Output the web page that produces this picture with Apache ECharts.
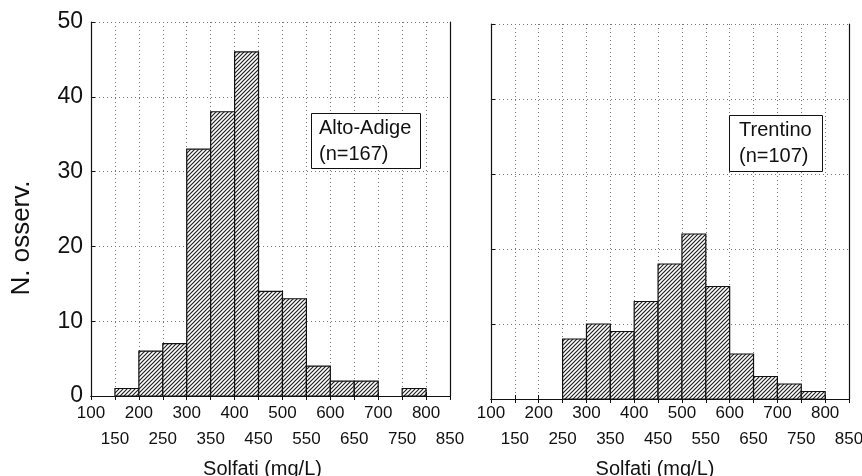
<!DOCTYPE html>
<html>
<head>
<meta charset="utf-8">
<script src="https://cdn.jsdelivr.net/npm/echarts@6/dist/echarts.min.js"></script>
<style>
  html, body { margin: 0; padding: 0; background: #fff; }
  #chart { width: 862px; height: 476px; }
</style>
</head>
<body>
<div id="chart"></div>
<script>
// bin edges (mg/L) and counts per bin
const binStarts = [150, 200, 250, 300, 350, 400, 450, 500, 550, 600, 650, 700, 750]
const altoAdige = [1, 6, 7, 33, 38, 46, 14, 13, 4, 2, 2, 0, 1]
const trentino = [0, 0, 8, 10, 9, 13, 18, 22, 15, 6, 3, 2, 1]
const binWidth = 50
const yTicks = [0, 10, 20, 30, 40, 50]
const xMin = 100
const xMax = 850

// diagonal hatch
const hatch = document.createElement('canvas')
hatch.width = 4
hatch.height = 4
const hc = hatch.getContext('2d')
hc.fillStyle = '#fff'
hc.fillRect(0, 0, 4, 4)
hc.strokeStyle = '#222'
hc.lineWidth = 1.2
hc.beginPath()
hc.moveTo(-1, 5); hc.lineTo(5, -1)
hc.moveTo(-1, 1); hc.lineTo(1, -1)
hc.moveTo(3, 5); hc.lineTo(5, 3)
hc.stroke()

const font = 'Liberation Sans, Arial, sans-serif'

function toData(counts) {
  return binStarts.map((s, i) => [s, s + binWidth, counts[i]]).filter(d => d[2] > 0)
}

function renderBin(params, api) {
  const p0 = api.coord([api.value(0), 0])
  const p1 = api.coord([api.value(1), api.value(2)])
  return {
    type: 'rect',
    shape: { x: p0[0], y: p1[1], width: p1[0] - p0[0], height: p0[1] - p1[1] },
    style: { fill: { image: hatch, repeat: 'repeat' }, stroke: '#111', lineWidth: 1.2 }
  }
}

const dotted = { show: true, lineStyle: { color: '#777', type: [1, 3], width: 1 } }
const labelStyle = { fontFamily: font, fontSize: 17, color: '#111', showMinLabel: true, showMaxLabel: true, hideOverlap: false }

function xAxes(gridIndex, namePad, shift) {
  return [
    {
      gridIndex: gridIndex,
      type: 'value',
      min: xMin,
      max: xMax,
      interval: 50,
      name: 'Solfati (mg/L)',
      nameLocation: 'middle',
      nameGap: 63 - shift,
      nameTextStyle: { fontFamily: font, fontSize: 20, color: '#111', padding: [0, namePad, 0, 0] },
      axisLine: { show: true, lineStyle: { color: '#111', width: 1.2 } },
      axisTick: { show: true, inside: true, length: 4, lineStyle: { color: '#111' } },
      axisLabel: { ...labelStyle, margin: 9 - shift, formatter: v => (v % 100 === 0 ? String(v) : '') },
      splitLine: dotted
    },
    {
      gridIndex: gridIndex,
      type: 'value',
      position: 'top',
      min: xMin,
      max: xMax,
      interval: 50,
      axisLine: { show: true, lineStyle: { color: '#111', width: 1.2 } },
      axisTick: { show: true, inside: true, length: 4, lineStyle: { color: '#111' } },
      axisLabel: { show: false },
      splitLine: { show: false }
    },
    {
      // second row of labels (150, 250, ...)
      gridIndex: gridIndex,
      type: 'value',
      position: 'bottom',
      offset: 0,
      min: xMin,
      max: xMax,
      interval: 50,
      axisLine: { show: false },
      axisTick: { show: false },
      axisLabel: { ...labelStyle, margin: 35 - shift, formatter: v => (v % 100 !== 0 ? String(v) : '') },
      splitLine: { show: false }
    }
  ]
}

function yAxes(gridIndex, showLabels) {
  return [
    {
      gridIndex: gridIndex,
      type: 'value',
      min: yTicks[0],
      max: yTicks[yTicks.length - 1],
      interval: 10,
      axisLine: { show: true, lineStyle: { color: '#111', width: 1.2 } },
      axisTick: { show: true, inside: true, length: 4, lineStyle: { color: '#111' } },
      axisLabel: { show: showLabels, fontFamily: font, fontSize: 23, color: '#111', margin: 8 },
      splitLine: dotted
    },
    {
      gridIndex: gridIndex,
      type: 'value',
      position: 'right',
      min: yTicks[0],
      max: yTicks[yTicks.length - 1],
      interval: 10,
      axisLine: { show: true, lineStyle: { color: '#111', width: 1.2 } },
      axisTick: { show: false },
      axisLabel: { show: false },
      splitLine: { show: false }
    }
  ]
}

const boxText = { fontFamily: font, fontSize: 20, fontWeight: 'normal', color: '#111', lineHeight: 26 }

const chart = echarts.init(document.getElementById('chart'))
chart.setOption({
  backgroundColor: '#fff',
  animation: false,
  grid: [
    { left: 91, right: 412, top: 22, bottom: 80, outerBoundsMode: 'none' },
    { left: 491, right: 13, top: 24, bottom: 77, outerBoundsMode: 'none' }
  ],
  xAxis: [...xAxes(0, 16, 0), ...xAxes(1, 30, 3)],
  yAxis: [...yAxes(0, true), ...yAxes(1, false)],
  title: [
    {
      text: 'Alto-Adige\n(n=167)',
      left: 311,
      top: 113,
      padding: [2, 9, 2, 8],
      borderColor: '#111',
      borderWidth: 1,
      backgroundColor: '#fff',
      textStyle: boxText
    },
    {
      text: 'Trentino\n(n=107)',
      left: 729,
      top: 115,
      padding: [2, 11, 3, 10],
      borderColor: '#111',
      borderWidth: 1,
      backgroundColor: '#fff',
      textStyle: boxText
    }
  ],
  graphic: [
    {
      type: 'text',
      x: 22,
      y: 238,
      rotation: Math.PI / 2,
      style: { text: 'N. osserv.', fontFamily: font, fontSize: 26, fill: '#111', align: 'center', verticalAlign: 'middle' }
    }
  ],
  series: [
    {
      type: 'custom',
      xAxisIndex: 0,
      yAxisIndex: 0,
      renderItem: renderBin,
      encode: { x: [0, 1], y: 2 },
      data: toData(altoAdige)
    },
    {
      type: 'custom',
      xAxisIndex: 3,
      yAxisIndex: 2,
      renderItem: renderBin,
      encode: { x: [0, 1], y: 2 },
      data: toData(trentino)
    }
  ]
})
</script>
</body>
</html>
